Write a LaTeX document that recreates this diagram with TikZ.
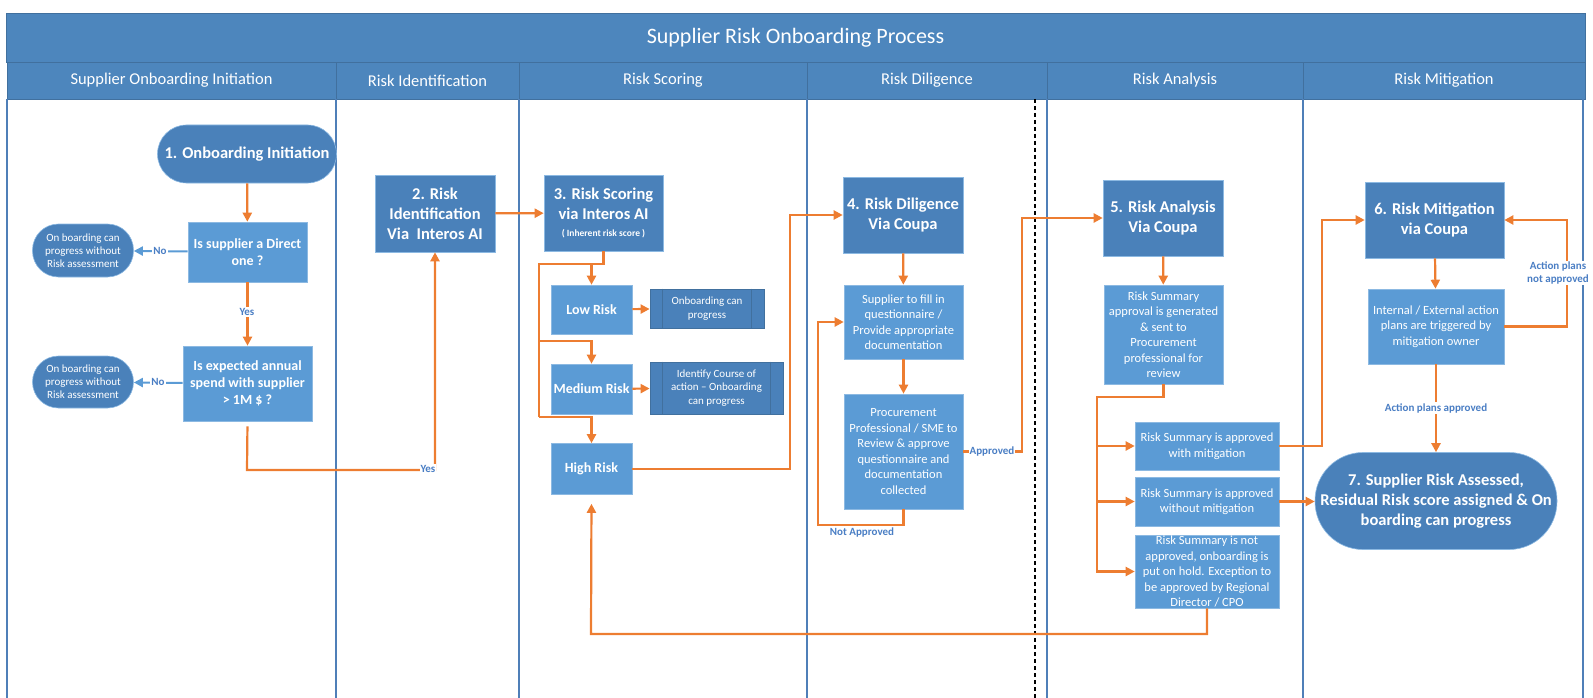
\documentclass[tikz,border=0pt]{standalone}
\usepackage{fontspec}
\setmainfont{Carlito}
\usetikzlibrary{arrows.meta}

\definecolor{hdrblue}{HTML}{4D86BD}
\definecolor{hdrline}{HTML}{41709E}
\definecolor{lanecol}{HTML}{4F7FB8}
\definecolor{darkbox}{HTML}{4A81BA}
\definecolor{lightbox}{HTML}{5B9BD5}
\definecolor{flowcol}{HTML}{ED7D31}
\definecolor{lblcol}{HTML}{4A7EC4}

\tikzset{
  lane/.style={draw=lanecol, line width=1.2pt},
  titlebar/.style={draw=hdrline, fill=hdrblue, text=white, inner sep=0pt,
    font=\fontsize{22}{26}\selectfont},
  hdrcell/.style={draw=hdrline, fill=hdrblue, text=white, inner sep=0pt,
    minimum height=37pt, font=\fontsize{16.5}{19}\selectfont},
  stepbox/.style={draw=lightbox!70!white, fill=darkbox, text=white, align=center,
    inner sep=1pt, line width=0.6pt, font=\bfseries\fontsize{16.5}{20}\selectfont},
  termbox/.style={stepbox},
  sidebox/.style={draw=lightbox!70!white, fill=darkbox, text=white, align=center,
    inner sep=1pt, line width=0.6pt, font=\fontsize{11}{13}\selectfont},
  askbox/.style={draw=lightbox!70!white, fill=lightbox, text=white, align=center,
    inner sep=1pt, line width=0.6pt, font=\bfseries\fontsize{14}{17}\selectfont},
  subbox/.style={draw=lightbox!70!white, fill=lightbox, text=white, align=center,
    inner sep=1pt, line width=0.6pt, font=\fontsize{12.5}{15.5}\selectfont},
  procbox/.style={draw=hdrline, fill=darkbox, text=white, align=center,
    inner sep=1pt, line width=0.8pt, font=\fontsize{11}{13.5}\selectfont},
  procline/.style={draw=hdrline, line width=0.8pt},
  flowline/.style={draw=flowcol, line width=2.2pt},
  flow/.style={flowline, ->},
  nolink/.style={draw=lightbox, line width=2pt, ->},
  lbl/.style={text=lblcol, fill=white, inner sep=1pt, align=center,
    font=\bfseries\fontsize{11}{12.5}\selectfont},
  >={Triangle[length=9pt,width=9pt]}
}

\begin{document}
\begin{tikzpicture}[x=1pt,y=-1pt]
  \useasboundingbox (0,0) rectangle (1593,698);

  %header
  \node[titlebar, minimum width=1579pt, minimum height=49pt] (title) at (795.5,37.5) {Supplier Risk Onboarding Process};
  \node[hdrcell, minimum width=329pt] (h1) at (171.5,80.5) {Supplier Onboarding Initiation};
  \node[hdrcell, minimum width=183pt] (h2) at (427.5,80.5) {Risk Identification};
  \node[hdrcell, minimum width=288pt] (h3) at (663,80.5) {Risk Scoring};
  \node[hdrcell, minimum width=240pt] (h4) at (927,80.5) {Risk Diligence};
  \node[hdrcell, minimum width=256pt] (h5) at (1175,80.5) {Risk Analysis};
  \node[hdrcell, minimum width=282pt] (h6) at (1444,80.5) {Risk Mitigation};

  %lanes
  \foreach \x in {7,336,519,807,1047,1303,1583}
    \draw[lane] (\x,99) -- (\x,698);
  \draw[black, line width=1.2pt, dash pattern=on 4pt off 3pt] (1035,99) -- (1035,698);

  %onboarding initiation
  \node[termbox, minimum width=179pt, minimum height=58pt, rounded corners=29pt] (init) at (247,154) {1. Onboarding Initiation};
  \node[askbox, minimum width=119pt, minimum height=60pt] (direct) at (247.5,252) {Is supplier a Direct\\one ?};
  \node[sidebox, minimum width=101pt, minimum height=53pt, rounded corners=26pt] (nora) at (83,250.5) {On boarding can\\progress without\\Risk assessment};
  \node[askbox, minimum width=129pt, minimum height=75pt] (spend) at (247.5,383.5) {Is expected annual\\spend with supplier\\> 1M \$ ?};
  \node[sidebox, minimum width=101pt, minimum height=52pt, rounded corners=26pt] (norb) at (83,382) {On boarding can\\progress without\\Risk assessment};

  %identification
  \node[stepbox, minimum width=120pt, minimum height=77pt] (riskid) at (435,213.5) {2. Risk\\Identification\\Via~~Interos AI};

  %scoring
  \node[stepbox, minimum width=119pt, minimum height=76pt] (score) at (603.5,213) {3. Risk Scoring\\via Interos AI\\[-3pt]{\fontsize{9.5}{11}\selectfont ( Inherent risk score )}};
  \node[askbox, minimum width=81pt, minimum height=49pt] (low) at (591.5,309.5) {Low Risk};
  \node[askbox, minimum width=81pt, minimum height=50pt] (medium) at (591.5,389) {Medium Risk};
  \node[askbox, minimum width=81pt, minimum height=51pt] (high) at (591.5,469) {High Risk};
  \node[procbox, minimum width=114pt, minimum height=39pt] (canprog) at (707,308.5) {Onboarding can\\progress};
  \node[procbox, minimum width=133pt, minimum height=52pt] (course) at (716.5,388) {Identify Course of\\action -- Onboarding\\can progress};
  \draw[procline] ([xshift=13pt]canprog.north west) -- ([xshift=13pt]canprog.south west);
  \draw[procline] ([xshift=-13pt]canprog.north east) -- ([xshift=-13pt]canprog.south east);
  \draw[procline] ([xshift=13pt]course.north west) -- ([xshift=13pt]course.south west);
  \draw[procline] ([xshift=-13pt]course.north east) -- ([xshift=-13pt]course.south east);

  %diligence
  \node[stepbox, minimum width=120pt, minimum height=76pt] (dil) at (903,215) {4. Risk Diligence\\Via Coupa};
  \node[subbox, minimum width=119pt, minimum height=74pt] (fill) at (903.5,322) {Supplier to fill in\\questionnaire /\\Provide appropriate\\documentation};
  \node[subbox, minimum width=119pt, minimum height=115pt] (review) at (903.5,451.5) {Procurement\\Professional / SME to\\Review \& approve\\questionnaire and\\documentation\\collected};

  %analysis
  \node[stepbox, minimum width=120pt, minimum height=76pt] (ana) at (1163,218) {5. Risk Analysis\\Via Coupa};
  \node[subbox, minimum width=119pt, minimum height=99pt] (summ) at (1163.5,334.5) {Risk Summary\\approval is generated\\\& sent to\\Procurement\\professional for\\review};
  \node[subbox, minimum width=144pt, minimum height=48pt] (withm) at (1207,446) {Risk Summary is approved\\with mitigation};
  \node[subbox, minimum width=144pt, minimum height=49pt] (withoutm) at (1207,501.5) {Risk Summary is approved\\without mitigation};
  \node[subbox, minimum width=144pt, minimum height=73pt] (notm) at (1207,571.5) {Risk Summary is not\\approved, onboarding is\\put on hold. Exception to\\be approved by Regional\\Director / CPO};

  %mitigation
  \node[stepbox, minimum width=139pt, minimum height=76pt] (mit) at (1434.5,220) {6. Risk Mitigation\\via Coupa};
  \node[subbox, minimum width=136pt, minimum height=75pt] (plans) at (1436,326.5) {Internal / External action\\plans are triggered by\\mitigation owner};
  \node[termbox, minimum width=242pt, minimum height=97pt, rounded corners=48pt] (done) at (1436,501) {7. Supplier Risk Assessed,\\Residual Risk score assigned \& On\\boarding can progress};

  %turn points
  \coordinate (yesturn) at (247,470);
  \coordinate (split) at (539,264);
  \coordinate (tomed) at (539,341);
  \coordinate (tohigh) at (539,417);
  \coordinate (dilturn) at (790,215);
  \coordinate (naturn) at (818,525);
  \coordinate (apturn) at (1022,218);
  \coordinate (sumsplit) at (1097,397);
  \coordinate (mitturn) at (1322,220);
  \coordinate (loopturn) at (1567,220);
  \coordinate (holdturn) at (591,634);

  %connectors
  \draw[flow] (init) -- (direct);
  \draw[nolink] (direct) -- (nora);
  \draw[flow] (direct) -- (spend);
  \draw[nolink] (spend) -- (norb);
  \draw[flow, shorten <=5pt] (spend.south) -- (yesturn) -| (riskid.south);
  \draw[flow] (riskid) -- (score);
  \draw[flowline] (score.south) |- (split) -- (tohigh);
  \draw[flow] (low.north |- split) -- (low.north);
  \draw[flow] (tomed) -| (medium.north);
  \draw[flow] (tohigh) -| (high.north);
  \draw[flow] (low) -- (canprog);
  \draw[flow] (medium) -- (course);
  \draw[flow] (high.east) -| (dilturn) -- (dil.west);
  \draw[flow] (dil) -- (fill);
  \draw[flow] (fill) -- (review);
  \draw[flow] (review.south) |- (naturn) |- (fill.west);
  \draw[flow] (review.east) -| (apturn) -- (ana.west);
  \draw[flow] (ana) -- (summ);
  \draw[flow] (summ.south) |- (sumsplit) |- (notm.west);
  \draw[flow] (sumsplit |- withm.west) -- (withm.west);
  \draw[flow] (sumsplit |- withoutm.west) -- (withoutm.west);
  \draw[flow] (withm.east) -| (mitturn) -- (mit.west);
  \draw[flow] (withoutm.east) -- (withoutm.east -| done.west);
  \draw[flow] (mit) -- (plans);
  \draw[flow] (plans.east) -| (loopturn) -- (mit.east);
  \draw[flow] (plans) -- (done);
  \draw[flow, shorten >=9pt] (notm.south) |- (holdturn) -- (high.south);

  %labels
  \node[lbl] (no1) at (160,250.5) {No};
  \node[lbl] (no2) at (158,382) {No};
  \node[lbl] (yes1) at (247,312) {Yes};
  \node[lbl] (yes2) at (428,469) {Yes};
  \node[lbl] (appr) at (992,452) {Approved};
  \node[lbl, fill=none] (notappr) at (862,533) {Not Approved};
  \node[lbl] (planok) at (1436,408) {Action plans approved};
  \node[lbl] (planno) at (1558,273) {Action plans\\not approved};
\end{tikzpicture}
\end{document}
